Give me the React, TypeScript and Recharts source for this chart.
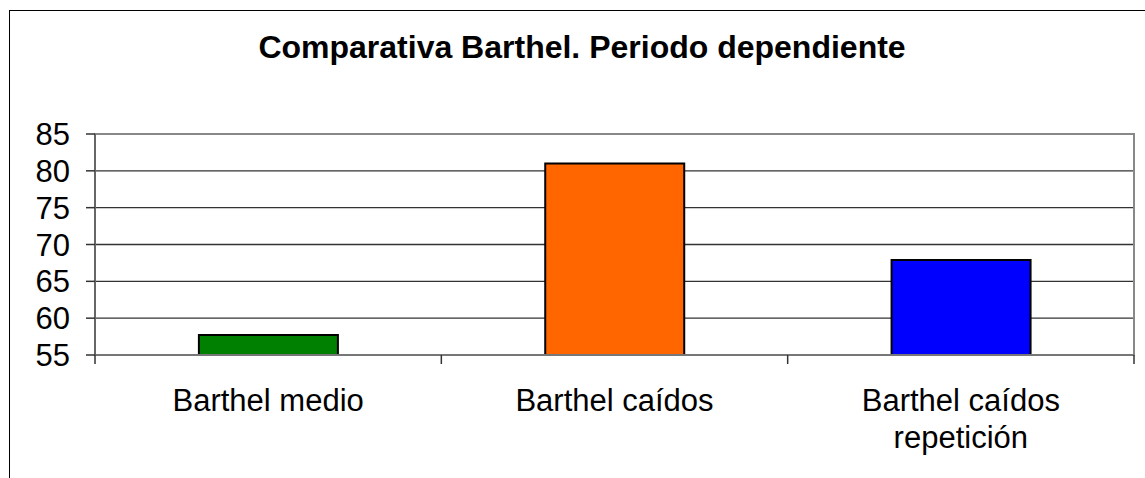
import React from 'react';
import { BarChart, Bar, XAxis, YAxis, CartesianGrid, Cell, ReferenceArea } from 'recharts';

const categories = ['Barthel medio', 'Barthel caídos', 'Barthel caídos repetición'];
const values = [57.7, 81.0, 67.9];
const barColors = ['#008000', '#FF6600', '#0000FF'];
const yTicks = [55, 60, 65, 70, 75, 80, 85];
const title = 'Comparativa Barthel. Periodo dependiente';

const data = categories.map((name, i) => ({ name, value: values[i] }));

const FONT = '"Liberation Sans", Arial, sans-serif';
const MAX_CHARS = 16;
const TICK_MARGIN = 34;
const TICK_LEN = 9;

const wrapLabel = (label: string): string[] => {
  const words = String(label).split(' ');
  const lines: string[] = [];
  let cur = '';
  words.forEach((w) => {
    const next = cur ? cur + ' ' + w : w;
    if (next.length > MAX_CHARS && cur) {
      lines.push(cur);
      cur = w;
    } else {
      cur = next;
    }
  });
  if (cur) lines.push(cur);
  return lines;
};

const CategoryTick = (props: any) => {
  const { x, y, payload, width, visibleTicksCount, index } = props;
  const lines = wrapLabel(payload.value);
  const half = width && visibleTicksCount ? width / visibleTicksCount / 2 : 0;
  const axisY = y - TICK_MARGIN;
  const isLast = index === visibleTicksCount - 1;
  return (
    <g>
      <line x1={x - half} x2={x - half} y1={axisY} y2={axisY + TICK_LEN} stroke="#333" strokeWidth={1.5} />
      {isLast && (
        <line x1={x + half} x2={x + half} y1={axisY} y2={axisY + TICK_LEN} stroke="#333" strokeWidth={1.5} />
      )}
      <text x={x} y={y} textAnchor="middle" fontSize={31} fontFamily={FONT} fill="#000">
        {lines.map((l, i) => (
          <tspan key={i} x={x} dy={i === 0 ? 22 : 37}>
            {l}
          </tspan>
        ))}
      </text>
    </g>
  );
};

export default function App() {
  return (
    <div style={{ position: 'absolute', left: 0, top: 0, width: 1145, height: 478, overflow: 'hidden', background: '#fff' }}>
      <div
        style={{
          position: 'absolute',
          left: 9,
          top: 10,
          width: 1200,
          height: 600,
          borderLeft: '1.5px solid #000',
          borderTop: '1.5px solid #000',
          boxSizing: 'border-box',
        }}
      />
      <div
        style={{
          position: 'absolute',
          left: 0,
          top: 27,
          width: 1164,
          textAlign: 'center',
          fontFamily: FONT,
          fontWeight: 'bold',
          fontSize: 32,
          lineHeight: '40px',
          color: '#000',
        }}
      >
        {title}
      </div>
      <div style={{ position: 'absolute', left: 0, top: 0 }}>
        <BarChart
          width={1145}
          height={478}
          data={data}
          margin={{ top: 134, right: 11, bottom: 0, left: 0 }}
          barCategoryGap="30%"
        >
          <CartesianGrid horizontal vertical={false} stroke="#333" strokeWidth={1.3} />
          <ReferenceArea y1={55} y2={85} fill="none" stroke="#888" strokeWidth={2} ifOverflow="visible" />
          <XAxis
            dataKey="name"
            type="category"
            height={123}
            interval={0}
            tickSize={0}
            tickMargin={TICK_MARGIN}
            tickLine={false}
            axisLine={{ stroke: '#777', strokeWidth: 2 }}
            tick={<CategoryTick />}
          />
          <YAxis
            type="number"
            domain={[55, 85]}
            ticks={yTicks}
            interval={0}
            width={95}
            tickSize={9}
            tickMargin={16}
            axisLine={{ stroke: '#666', strokeWidth: 2 }}
            tickLine={{ stroke: '#333', strokeWidth: 1.5 }}
            tick={{ fill: '#000', fontSize: 31, fontFamily: FONT }}
            allowDataOverflow
          />
          <Bar dataKey="value" stroke="#000" strokeWidth={2} isAnimationActive={false}>
            {data.map((d, i) => (
              <Cell key={d.name} fill={barColors[i]} />
            ))}
          </Bar>
        </BarChart>
      </div>
    </div>
  );
}
